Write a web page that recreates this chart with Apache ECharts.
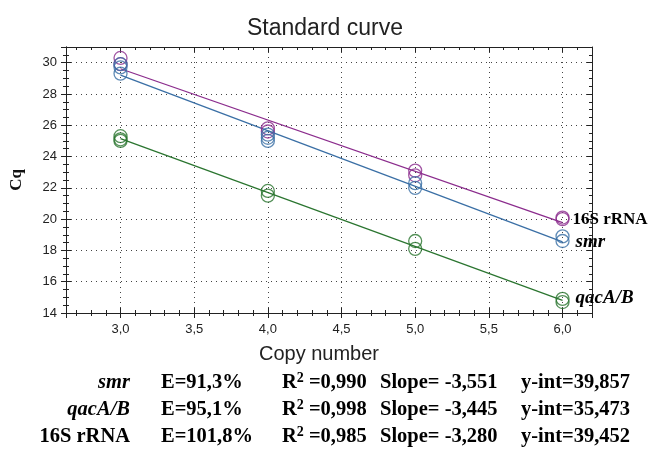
<!DOCTYPE html>
<html>
<head>
<meta charset="utf-8">
<script src="https://cdn.jsdelivr.net/npm/echarts@6/dist/echarts.min.js"></script>
<style>
  html, body { margin: 0; padding: 0; background: #fff; }
  #chart { width: 654px; height: 458px; }
</style>
</head>
<body>
<div id="chart"></div>
<script>
// measured points (copy number, Cq)
var smrX = [3, 3, 3, 4, 4, 4, 5, 5, 6, 6];
var smrCq = [29.9, 29.7, 29.3, 25.4, 25.2, 25.0, 22.3, 22.0, 18.9, 18.6];
var qacX = [3, 3, 3, 4, 4, 5, 5, 6, 6];
var qacCq = [25.3, 25.1, 25.0, 21.8, 21.5, 18.6, 18.1, 14.9, 14.7];
var rnaX = [3, 3, 4, 4, 5, 5, 6, 6];
var rnaCq = [30.3, 29.9, 25.8, 25.6, 23.1, 22.8, 20.1, 20.0];

// fitted lines, ends at 3 and 6
var fitX = [3, 6];
var smrFit = [29.20, 18.55];
var qacFit = [25.14, 14.80];
var rnaFit = [29.61, 19.77];

// table under the chart
var genes = ['smr', 'qacA/B', '16S rRNA'];
var geneItalic = [true, true, false];
var effs = ['91,3', '95,1', '101,8'];
var r2s = ['0,990', '0,998', '0,985'];
var slopes = ['-3,551', '-3,445', '-3,280'];
var yints = ['39,857', '35,473', '39,452'];

var purple = '#8b2c8d';
var blue = '#3a6fa5';
var green = '#2b7530';

function pairs(xs, ys) {
  return xs.map(function (x, i) { return [x, ys[i]]; });
}

var myChart = echarts.init(document.getElementById('chart'));

var xMin = 2.63, xMax = 6.2;
var yMin = 14, yMax = 31;
var axisColor = '#222';
var sans = 'Liberation Sans, Arial, sans-serif';
var serif = 'Liberation Serif, Times New Roman, serif';

function xAx(extra) {
  return Object.assign({
    type: 'value', min: xMin, max: xMax, splitNumber: 7,
    axisLine: { show: true, onZero: false, lineStyle: { color: axisColor, width: 1 } },
    axisTick: { show: true, length: 5, lineStyle: { color: axisColor } },
    minorTick: { show: true, splitNumber: 5, length: 3, lineStyle: { color: axisColor } },
    axisLabel: { show: false },
    splitLine: { show: false }
  }, extra);
}
function yAx(extra) {
  return Object.assign({
    type: 'value', min: yMin, max: yMax, interval: 2,
    axisLine: { show: true, onZero: false, lineStyle: { color: axisColor, width: 1 } },
    axisTick: { show: true, length: 5, lineStyle: { color: axisColor } },
    minorTick: { show: true, splitNumber: 4, length: 3, lineStyle: { color: axisColor } },
    axisLabel: { show: false },
    splitLine: { show: false }
  }, extra);
}

var graphics = [];
var rowY = [383, 410, 437];
genes.forEach(function (g, i) {
  var base = { fontFamily: serif, fontWeight: 'bold', fontSize: 20.5, fill: '#000', textVerticalAlign: 'middle' };
  graphics.push({ type: 'text', x: 130, y: rowY[i], style: Object.assign({}, base, {
    text: g, textAlign: 'right', fontStyle: geneItalic[i] ? 'italic' : 'normal' }) });
  graphics.push({ type: 'text', x: 161, y: rowY[i], style: Object.assign({}, base, {
    text: 'E=' + effs[i] + '%', textAlign: 'left' }) });
  graphics.push({ type: 'text', x: 282, y: rowY[i], style: Object.assign({}, base, {
    text: 'R{sup|2} =' + r2s[i], textAlign: 'left',
    rich: { sup: { fontFamily: serif, fontWeight: 'bold', fontSize: 14, padding: [0, 0, 10, 0] } } }) });
  graphics.push({ type: 'text', x: 380, y: rowY[i], style: Object.assign({}, base, {
    text: 'Slope= ' + slopes[i], textAlign: 'left' }) });
  graphics.push({ type: 'text', x: 521, y: rowY[i], style: Object.assign({}, base, {
    text: 'y-int=' + yints[i], textAlign: 'left' }) });
});

function scatter(name, xs, ys, color) {
  return {
    type: 'scatter', name: name, data: pairs(xs, ys), symbol: 'circle', symbolSize: 13,
    itemStyle: { color: 'rgba(0,0,0,0)', borderColor: color, borderWidth: 1.3 },
    z: 3
  };
}
function fitLine(name, ys, color, italic, dy) {
  return {
    type: 'line', name: name, data: pairs(fitX, ys), showSymbol: false, symbol: 'none',
    lineStyle: { color: color, width: 1.3 },
    endLabel: {
      show: true, formatter: name, distance: italic ? 13 : 10, offset: [0, dy],
      fontFamily: serif, fontWeight: 'bold', fontSize: italic ? 19 : 17,
      fontStyle: italic ? 'italic' : 'normal', color: '#000'
    },
    z: 2
  };
}

var option = {
  animation: false,
  backgroundColor: '#fff',
  title: {
    text: 'Standard curve', left: 320, top: 12, textAlign: 'center',
    textStyle: { fontFamily: sans, fontWeight: 'normal', fontSize: 23, color: '#222' }
  },
  grid: { left: 65, right: 62, top: 47, bottom: 145 },
  xAxis: [
    xAx({
      position: 'bottom',
      name: 'Copy number', nameLocation: 'middle', nameGap: 31,
      nameTextStyle: { fontFamily: sans, fontSize: 20, color: '#222', padding: [0, 20, 0, 0] },
      axisLabel: {
        show: true, showMinLabel: false, showMaxLabel: false, margin: 10,
        fontFamily: sans, fontSize: 13, color: '#222',
        formatter: function (v) { return v.toFixed(1).replace('.', ','); }
      },
      splitLine: { show: true, lineStyle: { color: '#444', type: [1, 4], width: 1 } }
    }),
    xAx({ position: 'bottom', axisTick: { show: true, inside: true, length: 5, lineStyle: { color: axisColor } } }),
    xAx({ position: 'top', axisTick: { show: true, inside: true, length: 5, lineStyle: { color: axisColor } } })
  ],
  yAxis: [
    yAx({
      position: 'left',
      name: 'Cq', nameLocation: 'middle', nameGap: 41,
      nameTextStyle: { fontFamily: serif, fontWeight: 'bold', fontSize: 17, color: '#111' },
      axisLabel: {
        show: true, showMaxLabel: false, margin: 9,
        fontFamily: sans, fontSize: 13, color: '#222'
      },
      splitLine: { show: true, lineStyle: { color: '#444', type: [1, 4], width: 1 } }
    }),
    yAx({ position: 'left', axisTick: { show: true, inside: true, length: 5, lineStyle: { color: axisColor } } }),
    yAx({ position: 'right', axisTick: { show: true, inside: true, length: 5, lineStyle: { color: axisColor } } })
  ],
  graphic: graphics,
  series: [
    fitLine('16S rRNA', rnaFit, purple, false, -3),
    fitLine('smr', smrFit, blue, true, 0),
    fitLine('qacA/B', qacFit, green, true, -2),
    scatter('16S rRNA', rnaX, rnaCq, purple),
    scatter('smr', smrX, smrCq, blue),
    scatter('qacA/B', qacX, qacCq, green)
  ]
};

myChart.setOption(option);
</script>
</body>
</html>
